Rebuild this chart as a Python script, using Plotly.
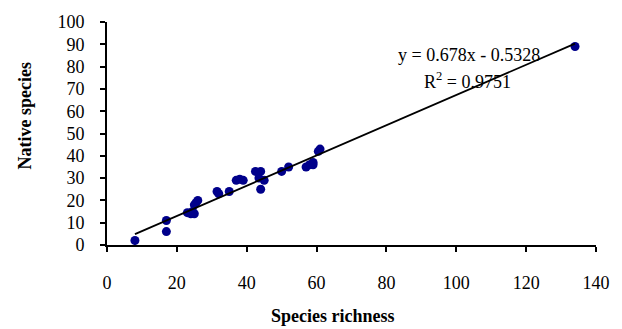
import plotly.graph_objects as go

# Data
species_richness = [8, 17, 17, 23, 24, 25, 24.5, 25, 26, 25.5, 31.5, 32, 35, 37, 38, 39,
                    42.5, 44, 43.5, 44, 45, 50, 52, 57, 58, 59, 59, 60.5, 61, 134]
native_species = [2, 11, 6, 14.5, 14, 14, 15, 18, 20, 19, 24, 23, 24, 29, 29.5, 29,
                  33, 33, 30, 25, 29, 33, 35, 35, 36, 37, 36, 42, 43, 89]
slope = 0.678
intercept = -0.5328
r_squared = 0.9751
x_ticks = [0, 20, 40, 60, 80, 100, 120, 140]
y_ticks = [0, 10, 20, 30, 40, 50, 60, 70, 80, 90, 100]

x_min, x_max = min(species_richness), max(species_richness)
trend_x = [x_min, x_max]
trend_y = [slope * v + intercept for v in trend_x]

FONT = "Liberation Serif"

fig = go.Figure()
fig.add_trace(go.Scatter(x=species_richness, y=native_species, mode="markers",
                         marker=dict(color="#00008B", size=9, line=dict(width=0)),
                         showlegend=False))
fig.add_trace(go.Scatter(x=trend_x, y=trend_y, mode="lines",
                         line=dict(color="black", width=1.8), showlegend=False))

axis_common = dict(showgrid=False, zeroline=False, showline=True, linecolor="black",
                   linewidth=1.8, ticks="outside", ticklen=5, tickwidth=1.5,
                   tickcolor="black", tickfont=dict(family=FONT, size=18, color="black"))

fig.update_xaxes(range=[0, 140], tickvals=x_ticks, ticklabelstandoff=15, **axis_common)
fig.update_yaxes(range=[0, 100], tickvals=y_ticks, ticklabelstandoff=12, **axis_common)

fig.update_layout(
    width=622, height=329,
    margin=dict(l=107, r=21, t=19, b=84),
    plot_bgcolor="white", paper_bgcolor="white",
    annotations=[
        dict(text="Native species", xref="paper", yref="paper", x=-0.168, y=0.58,
             xanchor="center", yanchor="middle", textangle=-90, showarrow=False,
             font=dict(family=FONT, size=18, color="black", weight="bold")),
        dict(text="Species richness", xref="paper", yref="paper", x=0.4615, y=-0.319,
             xanchor="center", yanchor="middle", showarrow=False,
             font=dict(family=FONT, size=18, color="black", weight="bold")),
        dict(text=f"y = {slope}x - {abs(intercept)}", xref="paper", yref="paper",
             x=0.741, y=0.85, xanchor="center", yanchor="middle", showarrow=False,
             font=dict(family=FONT, size=18, color="black")),
        dict(text=f"R<sup>2</sup> = {r_squared}", xref="paper", yref="paper",
             x=0.737, y=0.739, xanchor="center", yanchor="middle", showarrow=False,
             font=dict(family=FONT, size=18, color="black")),
    ],
)

fig.write_html("out.html")
